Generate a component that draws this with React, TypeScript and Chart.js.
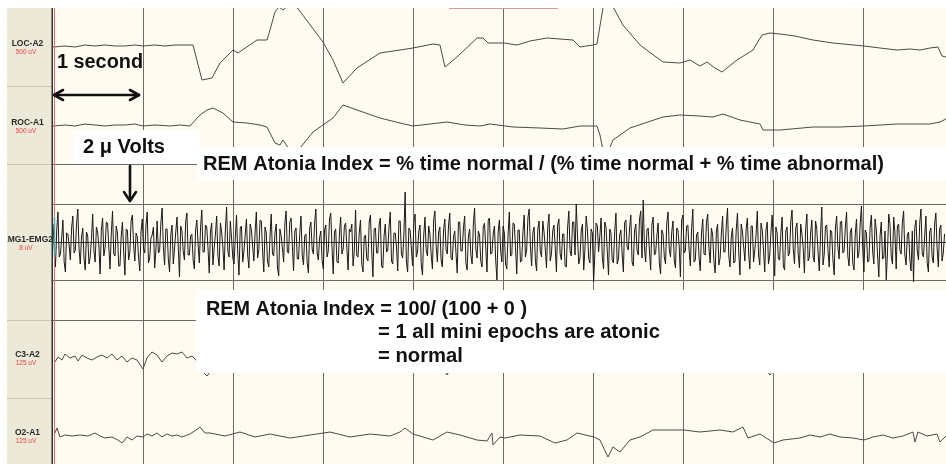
import { useEffect, useRef } from "react";
import { Chart, registerables } from "chart.js";
Chart.register(...registerables);

// ---- display time base ----
const SAMPLE_RATE = 90.05; // display samples per second
const SECONDS_SHOWN = 9.917;
const secondMarks = [1, 2, 3, 4, 5, 6, 7, 8, 9];

// ---- channel labels ----
const channelNames = ["LOC-A2", "ROC-A1", "EMG1-EMG2", "C3-A2", "O2-A1"];
const channelGains = ["500 uV", "500 uV", "8 uV", "125 uV", "125 uV"];

// ---- LOC-A2 ----
const locSamples = [0, 12, 22, 32, 42, 52, 62, 72, 82, 90, 102, 112, 122, 132, 140, 149, 159, 167, 180, 185, 204, 214, 217, 222, 226, 230, 234, 238, 243, 270, 280, 290, 304, 327, 347, 360, 380, 387, 392, 404, 424, 430, 435, 451, 464, 477, 494, 507, 520, 527, 540, 544, 550, 553, 559, 570, 587, 610, 627, 637, 647, 654, 662, 669, 684, 700, 709, 717, 727, 742, 760, 780, 811, 827, 844, 857, 867, 877, 885, 889, 893];
const locValues = [-1, 0, -1, 1, 0, 1, 0, 0, 1, 0, 1, 0, 1, 1, 1, -34, -32, -17, -4, -7, 6, 6, 16, 34, 39, 36, 40, 51, 40, 4, -14, -37, -22, -7, -4, -2, 2, 1, -21, -11, 8, 8, 3, 3, 1, 5, 8, 7, 6, -1, 1, 2, 38, 51, 41, 21, 1, -16, -17, -14, -20, -16, -22, -26, -14, -4, 11, 13, 12, 10, 6, 3, 0, -2, -4, -3, -4, -2, -1, -10, -11];

// ---- ROC-A1 ----
const rocSamples = [0, 12, 22, 32, 42, 52, 62, 72, 82, 90, 102, 117, 127, 137, 147, 154, 160, 170, 180, 194, 207, 214, 222, 227, 230, 234, 239, 247, 260, 270, 280, 290, 304, 327, 347, 360, 377, 394, 412, 427, 437, 460, 487, 510, 527, 544, 547, 550, 555, 560, 577, 610, 627, 647, 660, 670, 687, 707, 710, 727, 760, 787, 811, 844, 877, 887, 893];
const rocValues = [-1, 0, -1, 1, 0, -1, 0, 0, 1, -1, 0, -1, 0, -1, 10, 15, 17, 12, 3, 2, 0, -2, -18, -20, -15, -21, -30, -23, -7, 0, 7, 20, 15, 7, 2, -1, 1, 3, 0, -1, 1, -2, -3, -4, -1, -1, -10, -25, -27, -15, -3, 8, 10, 9, 8, 11, 5, 1, -5, -5, -2, -2, -1, 1, 1, 3, 6];

// ---- EMG1-EMG2 (emgValuesA on the step, emgValuesB half a step later) ----
const EMG_STEP = 2.48;
const emgValuesA = [
  18, -25, 30, -12, 22, -30, 8, -18, 26, -8, 33, -22, 14, -28, 6, -15, 28, -20, 10, -32,
  24, -6, 19, -27, 31, -14, 9, -24, 20, -33, 12, -10, 27, -19, 5, -29, 23, -11, 30, -16,
  7, -26, 21, -9, 34, -23, 13, -30, 17, -7, 25, -35, 11, -18, 29, -13, 8, -27, 22, -21,
  32, -10, 15, -31, 19, -6, 26, -24, 10, -28, 35, -15, 4, -22, 27, -33, 16, -9, 23, -26,
  12, -19, 30, -8, 21, -30, 9, -25, 28, -14, 18, -34, 6, -20, 31, -11, 24, -29, 14, -17,
  26, -23, 8, -31, 20, -12, 33, -18, 11, -27, 17, -9, 29, -32, 13, -21, 25, -7, 19, -28,
  10, -24, 32, -15, 22, -30, 7, -19, 27, -35, 14, -11, 24, -26, 18, -8, 30, -22, 9, -29,
  21, -16, 50, -30, 12, -24, 28, -10, 17, -33, 25, -14, 8, -27, 31, -20, 15, -25, 23, -12,
  29, -18, 11, -31, 20, -9, 26, -28, 13, -22, 34, -16, 7, -25, 19, -30, 24, -11, 16, -38,
  22, -20, 9, -27, 30, -13, 18, -32, 12, -19, 27, -8, 33, -24, 15, -29, 21, -15, 10, -26,
  28, -12, 17, -30, 23, -18, 8, -25, 31, -14, 20, 38, -22, 11, -28, 26, -16, 13, -40, 19,
  -10, 24, -27, 15, -33, 9, -21, 29, -17, 12, -30, 22, -8, 27, -24, 18, -13, 31, 42, -20,
  14, -28, 25, -11, 19, -32, 8, -22, 30, -15, 21, -26, 12, -35, 27, -9, 17, -24, 33, -18,
  10, -29, 23, -13, 28, -21, 7, -31, 18, -16, 26, -10, 34, -25, 14, -20, 29, -33, 11, -19,
  24, -27, 16, -8, 31, -23, 12, -30, 20, -14, 27, -34, 9, -18, 25, -28, 15, -11, 32, -22,
  19, -26, 8, -31, 28, -15, 22, -20, 13, -29, 35, -12, 17, -25, 10, -33, 26, -17, 21, -9,
  30, -24, 14, -28, 23, -11, 36, -30, 9, -19, 27, -22, 12, -35, 20, -16, -38, 28, -14, 25,
  -27, 18, -12, 31, -23, 10, -29, -40, 22, -18, 33, -15, 26, -30, 14, -21, 29, -25, 17, -11,
];
const emgValuesB = [
  -6, 12, -15, 4, -20, 9, -3, 14, -11, 18, -7, 5, -16, 10, -22, 3, -9, 15, -4, 12,
  -14, 20, -5, 8, -12, 16, -24, 6, -10, 13, -18, 21, -3, 9, -15, 11, -6, 17, -21, 4,
  15, -8, -11, 19, -5, 13, -17, 7, -22, 10, -4, 16, -9, 20, -13, 6, -18, 12, -2, 14,
  -10, 17, -6, 11, -23, 8, -14, 19, -5, 12, -9, 21, -16, 4, -11, 14, -20, 7, -13, 18,
  -4, 10, -16, 22, -8, 15, -19, 5, -12, 9, -25, 13, -6, 18, -10, 20, -3, 11, -17, 8,
  -13, 6, -21, 14, -7, 19, -11, 4, -18, 12, -15, 23, -5, 10, -20, 8, -12, 16, -6, 13,
  18, -9, -14, 10, -22, 5, -16, 20, -8, 13, -11, 17, -24, 6, -10, 15, -19, 9, -5, 21,
  -12, 8, -20, 14, -6, 19, -15, 11, -23, 7, -9, 16, -13, 22, -4, 10, -18, 12, -8, 17,
  -16, 5, -11, 20, -9, 14, -21, 6, -13, 18, -7, 11, -19, 15, -5, 22, -12, 8, -17, 10,
  -8, 16, -22, 7, -14, 19, -6, 12, -20, 10, -15, 24, -4, 9, -18, 13, -10, 21, -7, 15,
  -19, 11, -5, 17, -12, 8, -24, 14, -9, 20, -13, 6, -16, 18, -7, 12, -21, 9, -11, 16,
  6, -15, 20, -9, 13, -18, 10, -22, 7, -12, 19, -5, 14, -20, 11, -8, 23, -16, -6, 12,
  -9, 17, -13, 6, -21, 12, -15, 19, -7, 10, -18, 14, -4, 22, -11, 16, -8, 13, -20, 7,
  -15, 9, -12, 20, -6, 14, -19, 11, -23, 8, -10, 17, -14, 5, -21, 12, -9, 18, -5, 13,
  -11, 16, -20, 7, -13, 19, -8, 12, -22, 10, -6, 15, -17, 9, -24, 11, -14, 20, -7, 14,
  -12, 18, -6, 13, -19, 9, -15, 21, -10, 7, -23, 16, -8, 12, -18, 14, -5, 20, -11, 15,
  -14, 10, -21, 8, -16, 19, -7, 12, -20, 15, -9, 23, -13, 6, -17, 11, -10, 18, -22, 9,
  16, -8, 20, -13, 7, -17, 11, 14, -9, 19, -12, 6, -21, 10, -15, 18, -6, 13, -19, 8,
];

// ---- C3-A2 ----
const c3Samples = [2, 5, 9, 12, 17, 22, 25, 29, 34, 39, 44, 49, 54, 59, 64, 69, 74, 79, 84, 90, 94, 99, 104, 109, 114, 119, 124, 129, 134, 139, 143, 150, 154, 159, 172, 187, 202, 217, 237, 257, 277, 297, 317, 337, 357, 377, 389, 394, 399, 417, 437, 457, 477, 497, 517, 537, 557, 577, 597, 617, 637, 657, 677, 697, 712, 717, 722, 737, 757, 777, 797, 817, 837, 857, 877, 893];
const c3Values = [-5, 0, -3, 3, -1, 1, -4, 2, -1, -3, 0, 2, -1, 3, -3, 1, -5, -1, -3, -12, -1, 5, 2, -5, 1, 4, 3, 5, -1, 1, -3, -15, -19, -13, -1, 3, -3, 2, -1, 4, -2, 1, -3, 3, -1, 1, -9, -18, -9, 0, 4, -2, 2, -3, 3, -1, 1, -2, 3, -1, 2, -3, 1, -1, -11, -18, -11, 0, 4, -2, 2, -1, 3, -2, 1, 0];

// ---- O2-A1 ----
const o2Samples = [2, 4, 7, 12, 19, 27, 35, 42, 47, 52, 59, 65, 69, 74, 79, 84, 90, 94, 99, 104, 109, 114, 119, 124, 129, 137, 143, 147, 152, 157, 172, 187, 202, 217, 237, 257, 277, 297, 317, 337, 347, 352, 360, 380, 394, 407, 424, 434, 439, 440, 447, 452, 467, 487, 502, 514, 524, 541, 547, 555, 560, 567, 577, 587, 600, 614, 631, 647, 667, 680, 690, 695, 707, 721, 730, 747, 757, 767, 777, 787, 800, 811, 820, 830, 840, 850, 860, 862, 865, 874, 884, 887, 893];
const o2Values = [2, 7, -2, 0, -1, 0, -1, 2, -1, -3, -2, -5, -8, -2, -5, -1, -2, 1, -1, 2, -2, 1, -1, 0, -2, 1, 5, 8, 2, 2, -1, 3, -2, 1, -3, 0, 3, -2, 1, -1, 3, 7, 1, -5, 3, 0, -5, -6, 2, -10, -2, -3, 0, -1, -8, -5, 2, -2, -5, -22, -12, -17, -5, -2, 5, 5, 5, 3, 5, 3, 8, -3, 1, -8, -5, -3, 0, -2, 1, -2, -3, -5, -2, 0, -3, -1, 3, -7, 3, -1, 1, -7, -1];

// ---- vertical layout of the montage (y scale units, 0 = top of trace area) ----
const Y_RANGE = 456;
const channelBaselines = [38, 117, 234, 349, 427];
const bandDividers = [78, 156, 312, 390];
const emgGuideOffset = 38;

const FONT = "'Liberation Sans', Arial, Helvetica, sans-serif";

function pts(samples: number[], values: number[], base: number) {
  return samples.map((s, i) => ({ x: s / SAMPLE_RATE, y: base - values[i] }));
}

function fitText(ctx: CanvasRenderingContext2D, text: string, x: number, y: number, width: number) {
  const w = ctx.measureText(text).width;
  ctx.save();
  ctx.translate(x, y);
  ctx.scale(width / w, 1);
  ctx.fillText(text, 0, 0);
  ctx.restore();
}

function arrowHead(ctx: CanvasRenderingContext2D, tx: number, ty: number, bx: number, by: number, spread: number) {
  const dx = tx - bx, dy = ty - by;
  const len = Math.hypot(dx, dy);
  const nx = -dy / len, ny = dx / len;
  ctx.beginPath();
  ctx.moveTo(bx + nx * spread, by + ny * spread);
  ctx.lineTo(tx, ty);
  ctx.lineTo(bx - nx * spread, by - ny * spread);
  ctx.stroke();
}

const montagePlugin = {
  id: "montage",
  beforeDraw(chart: any) {
    const { ctx, chartArea: a, scales } = chart;
    const x = scales.x, y = scales.y;
    ctx.save();
    ctx.fillStyle = "#ffffff";
    ctx.fillRect(0, 0, chart.width, chart.height);
    ctx.fillStyle = "#fffbf0";
    ctx.fillRect(a.left, a.top, a.right - a.left, a.bottom - a.top);
    // left label panel
    ctx.fillStyle = "#ece9d8";
    ctx.fillRect(7, a.top, a.left - 7, a.bottom - a.top);
    ctx.strokeStyle = "#c9c6b6";
    ctx.lineWidth = 1;
    bandDividers.forEach((v) => {
      const py = Math.round(y.getPixelForValue(v)) + 0.5;
      ctx.beginPath();
      ctx.moveTo(7, py);
      ctx.lineTo(a.left, py);
      ctx.stroke();
    });
    // second grid
    ctx.strokeStyle = "#6a6a6a";
    secondMarks.forEach((s) => {
      const px = Math.round(x.getPixelForValue(s)) + 0.5;
      ctx.beginPath();
      ctx.moveTo(px, a.top);
      ctx.lineTo(px, a.bottom);
      ctx.stroke();
    });
    // horizontal guides
    const guides = [bandDividers[1], bandDividers[2], channelBaselines[2] - emgGuideOffset, channelBaselines[2], channelBaselines[2] + emgGuideOffset];
    guides.forEach((v, i) => {
      const py = Math.round(y.getPixelForValue(v)) + 0.5;
      ctx.strokeStyle = i === 3 ? "#333333" : "#6a6a6a";
      ctx.beginPath();
      ctx.moveTo(a.left, py);
      ctx.lineTo(a.right, py);
      ctx.stroke();
    });
    // labels
    ctx.textAlign = "center";
    channelNames.forEach((n, i) => {
      const py = y.getPixelForValue(channelBaselines[i]);
      ctx.save();
      ctx.beginPath();
      ctx.rect(7, a.top, a.left - 7, a.bottom - a.top);
      ctx.clip();
      ctx.fillStyle = "#2a2a2a";
      ctx.font = `bold 8.5px ${FONT}`;
      ctx.fillText(n, 27.5, py);
      ctx.fillStyle = "#f04040";
      ctx.font = `6.5px ${FONT}`;
      ctx.fillText(channelGains[i], 26, py + 8);
      ctx.restore();
    });
    ctx.restore();
  },
  afterDatasetsDraw(chart: any) {
    const { ctx, chartArea: a, scales } = chart;
    const y = scales.y;
    ctx.save();
    // left border lines
    ctx.lineWidth = 1.5;
    ctx.strokeStyle = "#333333";
    ctx.beginPath();
    ctx.moveTo(52.25, a.top);
    ctx.lineTo(52.25, a.bottom);
    ctx.stroke();
    ctx.lineWidth = 1;
    ctx.strokeStyle = "#e07070";
    ctx.beginPath();
    ctx.moveTo(54.5, a.top);
    ctx.lineTo(54.5, a.bottom);
    ctx.stroke();
    ctx.strokeStyle = "#4fa8b0";
    ctx.lineWidth = 1.5;
    const ey = y.getPixelForValue(channelBaselines[2]);
    ctx.beginPath();
    ctx.moveTo(54.5, ey - 25);
    ctx.lineTo(54.5, ey + 15);
    ctx.stroke();
    // top marker
    ctx.strokeStyle = "#d89a9a";
    ctx.lineWidth = 1;
    ctx.beginPath();
    ctx.moveTo(449, a.top + 0.5);
    ctx.lineTo(558, a.top + 0.5);
    ctx.stroke();

    // white annotation boxes
    ctx.fillStyle = "#ffffff";
    ctx.fillRect(73, 130, 127, 34);
    ctx.fillRect(197, 147, 749, 33);
    ctx.fillRect(196, 290, 750, 83);

    // texts
    ctx.fillStyle = "#111111";
    ctx.textAlign = "left";
    ctx.font = `bold 19.5px ${FONT}`;
    fitText(ctx, "1 second", 57, 68, 86);
    fitText(ctx, "2 μ Volts", 83, 153, 82);
    fitText(ctx, "REM Atonia Index = % time normal / (% time normal + % time abnormal)", 203, 170, 681);
    fitText(ctx, "REM Atonia Index = 100/ (100 + 0 )", 206, 315, 321);
    fitText(ctx, "= 1 all mini epochs are atonic", 378, 338, 282);
    fitText(ctx, "= normal", 378, 362, 85);

    // arrows
    ctx.strokeStyle = "#111111";
    ctx.lineWidth = 2.6;
    ctx.lineCap = "round";
    ctx.lineJoin = "round";
    ctx.beginPath();
    ctx.moveTo(54, 95);
    ctx.lineTo(139, 95);
    ctx.stroke();
    arrowHead(ctx, 54, 95, 63, 95, 5);
    arrowHead(ctx, 139, 95, 130, 95, 5);
    ctx.beginPath();
    ctx.moveTo(130, 166);
    ctx.lineTo(130, 201);
    ctx.stroke();
    arrowHead(ctx, 130, 201, 130, 192, 6);
    ctx.restore();
  },
};

export default function App() {
  const ref = useRef<HTMLCanvasElement>(null);
  useEffect(() => {
    const canvas = ref.current!;
    const emgPoints: { x: number; y: number }[] = [];
    emgValuesA.forEach((v, i) => {
      emgPoints.push({ x: (i * EMG_STEP) / SAMPLE_RATE, y: channelBaselines[2] - v });
      emgPoints.push({ x: ((i + 0.5) * EMG_STEP) / SAMPLE_RATE, y: channelBaselines[2] - emgValuesB[i] });
    });
    const traceColor = "#4a4a4a";
    const chart = new Chart(canvas, {
      type: "line",
      data: {
        datasets: [
          { label: channelNames[0], data: pts(locSamples, locValues, channelBaselines[0]), borderColor: traceColor, borderWidth: 1 },
          { label: channelNames[1], data: pts(rocSamples, rocValues, channelBaselines[1]), borderColor: traceColor, borderWidth: 1 },
          { label: channelNames[2], data: emgPoints, borderColor: "#1a1a1a", borderWidth: 1 },
          { label: channelNames[3], data: pts(c3Samples, c3Values, channelBaselines[3]), borderColor: traceColor, borderWidth: 1 },
          { label: channelNames[4], data: pts(o2Samples, o2Values, channelBaselines[4]), borderColor: traceColor, borderWidth: 1 },
        ],
      },
      options: {
        animation: false,
        responsive: false,
        maintainAspectRatio: false,
        devicePixelRatio: 1,
        layout: { padding: { left: 53, top: 8, right: 0, bottom: 0 } },
        elements: { point: { radius: 0 }, line: { tension: 0 } },
        plugins: { legend: { display: false }, tooltip: { enabled: false } },
        events: [],
        scales: {
          x: { type: "linear", min: 0, max: SECONDS_SHOWN, display: false },
          y: { type: "linear", min: 0, max: Y_RANGE, reverse: true, display: false },
        },
      },
      plugins: [montagePlugin],
    });
    return () => chart.destroy();
  }, []);
  return (
    <canvas
      ref={ref}
      width={946}
      height={464}
      style={{ position: "fixed", left: 0, top: 0, width: 946, height: 464, display: "block" }}
    />
  );
}
